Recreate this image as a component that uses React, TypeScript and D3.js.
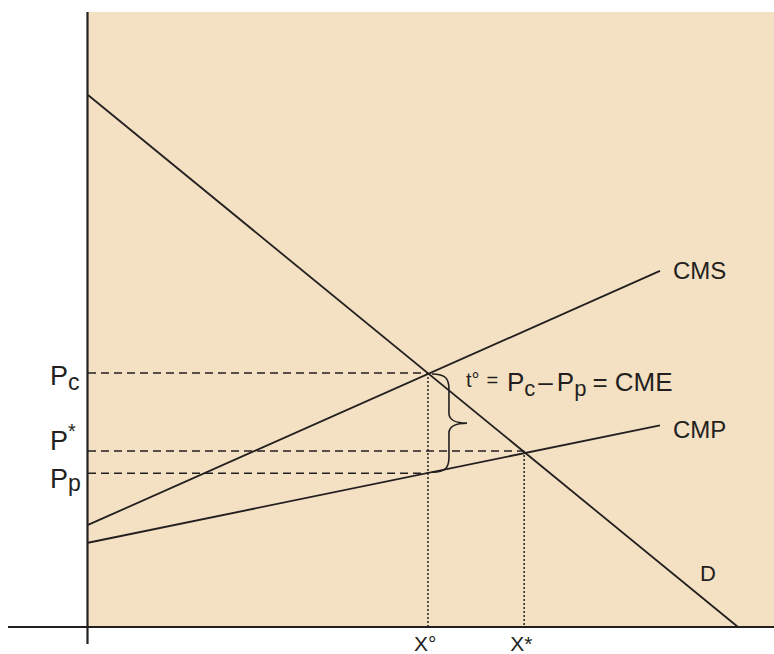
import React from "react";
import * as d3 from "d3";

const W = 774;
const H = 654;

// Curves (x: quantity 0..100, y: price 0..100)
const demandPts: [number, number][] = [[0, 86.5], [100, 0]];
const cmsPts: [number, number][] = [[0, 16.6], [88, 57.9]];
const cmpPts: [number, number][] = [[0, 13.7], [88, 32.8]];

// Quantity marks
const quantityMarks = ["°", "*"];
const quantityValues = [52.3, 67.1];

// Price marks: value, and index of the quantity it meets
const priceValues = [41.3, 28.6, 25.0];
const priceQty = [0, 1, 0];

export default function App() {
  const x = d3.scaleLinear().domain([0, 100]).range([88, 738]);
  const y = d3.scaleLinear().domain([0, 100]).range([627, 12]);
  const line = d3
    .line<[number, number]>()
    .x((d) => x(d[0]))
    .y((d) => y(d[1]));

  const ink = "#231f20";
  const font = "'Liberation Sans', Arial, Helvetica, sans-serif";

  const xo = x(quantityValues[0]);
  const yc = y(priceValues[0]);
  const yp = y(priceValues[2]);
  const bx = xo + 4;
  const mid = (yc + yp) / 2;
  const braceSpine = bx + 17;
  const braceTip = bx + 35;
  const brace = `M ${bx} ${yc + 1}
    C ${bx + 14} ${yc + 1}, ${braceSpine} ${yc + 6}, ${braceSpine} ${yc + 16}
    L ${braceSpine} ${mid - 10}
    C ${braceSpine} ${mid - 3}, ${braceSpine + 8} ${mid}, ${braceTip} ${mid}
    C ${braceSpine + 8} ${mid}, ${braceSpine} ${mid + 3}, ${braceSpine} ${mid + 10}
    L ${braceSpine} ${yp - 16}
    C ${braceSpine} ${yp - 6}, ${bx + 14} ${yp - 1}, ${bx} ${yp - 1}`;

  return (
    <svg
      width={W}
      height={H}
      style={{ position: "absolute", left: 0, top: 0 }}
      fontFamily={font}
    >
      <rect x={x(0)} y={y(100)} width={W - x(0)} height={y(0) - y(100)} fill="#f4e1c3" />

      {/* dashed price lines */}
      {priceValues.map((p, i) => (
        <line
          key={"h" + i}
          x1={x(0)}
          x2={x(quantityValues[priceQty[i]])}
          y1={y(p)}
          y2={y(p)}
          stroke={ink}
          strokeWidth={1.5}
          strokeDasharray="8,5"
        />
      ))}
      {/* dotted quantity lines */}
      {quantityValues.map((q, i) => {
        const p = i === 0 ? priceValues[0] : priceValues[1];
        return (
          <line
            key={"v" + i}
            x1={x(q)}
            x2={x(q)}
            y1={y(p)}
            y2={y(0)}
            stroke={ink}
            strokeWidth={1.5}
            strokeDasharray="2,2"
          />
        );
      })}

      {/* curves */}
      <path d={line(demandPts)!} stroke={ink} strokeWidth={1.8} fill="none" />
      <path d={line(cmsPts)!} stroke={ink} strokeWidth={1.8} fill="none" />
      <path d={line(cmpPts)!} stroke={ink} strokeWidth={1.8} fill="none" />

      {/* brace */}
      <path d={brace} stroke={ink} strokeWidth={1.6} fill="none" />

      {/* axes */}
      <line x1={x(0) - 0.5} x2={x(0) - 0.5} y1={y(100)} y2={y(0) + 17} stroke={ink} strokeWidth={2.2} />
      <line x1={8} x2={W} y1={y(0)} y2={y(0)} stroke={ink} strokeWidth={2.2} />

      {/* curve labels */}
      <text x={673} y={279} fontSize={24} fill={ink}>CMS</text>
      <text x={673} y={438} fontSize={24} fill={ink}>CMP</text>
      <text x={700} y={581} fontSize={22} fill={ink}>D</text>

      {/* price labels */}
      <text x={50} y={yc + 12} fontSize={27} fill={ink}>
        P<tspan fontSize={23} dy={5}>c</tspan>
      </text>
      <text x={50} y={y(priceValues[1]) - 1} fontSize={27} fill={ink}>
        P<tspan fontSize={20} dy={-12}>*</tspan>
      </text>
      <text x={50} y={yp + 15} fontSize={27} fill={ink}>
        P<tspan fontSize={23} dy={3}>p</tspan>
      </text>

      {/* quantity labels */}
      {quantityValues.map((q, i) => (
        <text key={"q" + i} x={x(q) - 14} y={651} fontSize={21} fill={ink}>
          X{quantityMarks[i]}
        </text>
      ))}

      {/* tax equation */}
      <text x={466} y={387} fontSize={20} fill={ink}>
        t°<tspan dx={7}>=</tspan>
      </text>
      <text x={507} y={391} fontSize={26} fill={ink}>
        P<tspan fontSize={22} dy={5}>c</tspan>
        <tspan dy={-5} dx={3}>–</tspan>
        <tspan dx={4}>P</tspan>
        <tspan fontSize={22} dy={5}>p</tspan>
        <tspan dy={-5} dx={6}>= CME</tspan>
      </text>
    </svg>
  );
}
